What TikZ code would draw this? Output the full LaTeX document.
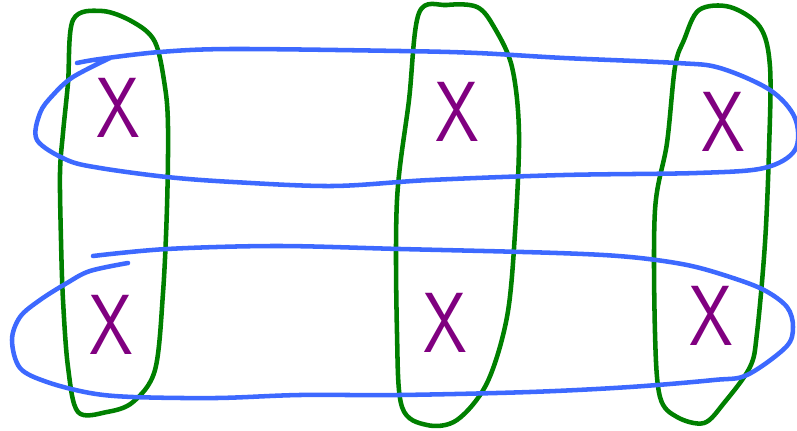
\documentclass[tikz,border=0pt]{standalone}
\usepackage{fontspec}
\definecolor{penblue}{RGB}{61,105,255}
\definecolor{pengreen}{RGB}{0,128,0}
\definecolor{penpurple}{RGB}{128,0,128}

\begin{document}
\begin{tikzpicture}[
  x=0.75pt, y=-0.75pt,
  greenloop/.style={draw=pengreen, line width=3.4pt, line join=round, line cap=round},
  blueloop/.style={draw=penblue, line width=3.4pt, line join=round, line cap=round},
  xletter/.style={text=penpurple, inner sep=0pt, font=\fontsize{64}{64}\selectfont\sffamily, transform shape, xscale=0.82}
]
\useasboundingbox (0,0) rectangle (797,431);

% Green loops (columns)
\draw[greenloop] plot[smooth cycle, tension=0.55] coordinates {
  (73,20) (102,11) (133,22) (155,42) (165,87) (168,127) (167,207) (163,293)
  (155,370) (133,402) (107,412) (78,412) (68,367) (63,300) (61,240) (60,173) (63,133) (68,83)};
\draw[greenloop] plot[smooth cycle, tension=0.55] coordinates {
  (419,13) (447,5) (477,7) (494,27) (512,67) (519,133) (515,233) (507,317)
  (487,383) (457,420) (427,425) (402,407) (397,333) (397,200) (409,100)};
\draw[greenloop] plot[smooth cycle, tension=0.55] coordinates {
  (699,10) (730,7) (760,27) (770,67) (769,150) (765,243) (757,333) (750,367)
  (724,403) (704,423) (677,417) (660,397) (655,333) (655,210) (667,143) (675,67) (684,40)};

% Blue loops (rows)
\draw[blueloop] plot[smooth, tension=0.55] coordinates {
  (77,63) (100,59) (160,52) (233,49) (400,51) (477,53) (564,58) (677,63) (720,68)
  (770,90) (795,118) (795,150) (764,168) (697,173) (564,175) (430,180) (333,186)
  (233,182) (167,177) (100,168) (67,160) (37,140) (40,113) (53,95) (73,77) (110,58)};
\draw[blueloop] plot[smooth, tension=0.55] coordinates {
  (93,256) (167,249) (277,246) (400,249) (557,253) (630,257) (687,265) (730,277)
  (764,290) (787,307) (793,327) (786,347) (747,375) (714,380) (630,387) (530,392)
  (400,395) (300,395) (217,398) (133,397) (90,393) (47,382) (20,368) (12,340)
  (20,317) (40,300) (67,283) (90,271) (128,263)};

% Elements
\node[xletter] (x1) at (118,108) {X};
\node[xletter] (x2) at (111,325) {X};
\node[xletter] (x3) at (457,112) {X};
\node[xletter] (x4) at (445,323) {X};
\node[xletter] (x5) at (723,122) {X};
\node[xletter] (x6) at (711,316) {X};
\end{tikzpicture}
\end{document}
